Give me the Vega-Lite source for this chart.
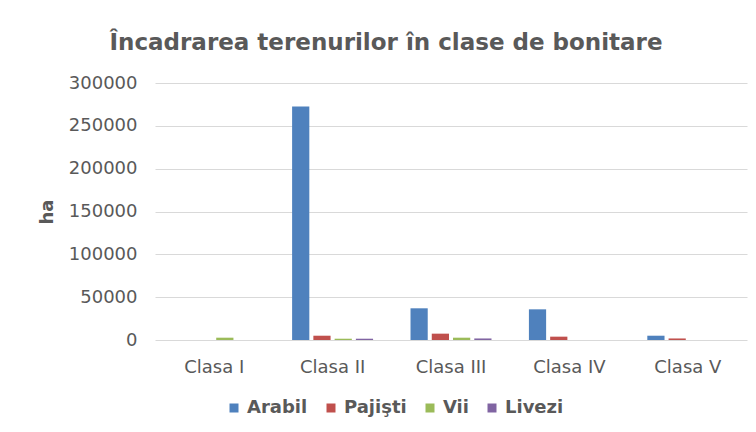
{
  "$schema": "https://vega.github.io/schema/vega-lite/v6.json",
  "autosize": {"type": "none"},
  "width": 592,
  "height": 257,
  "padding": {"left": 155, "top": 83, "right": 9, "bottom": 92},
  "background": "white",
  "title": {
    "text": "Încadrarea terenurilor în clase de bonitare",
    "font": "DejaVu Sans",
    "fontSize": 23,
    "fontWeight": "bold",
    "color": "#595959",
    "anchor": "middle",
    "dx": -65,
    "offset": 19
  },
  "data": {
    "values": [
      {"clasa": "Clasa I", "tip": "Arabil", "ha": 0},
      {"clasa": "Clasa I", "tip": "Pajişti", "ha": 0},
      {"clasa": "Clasa I", "tip": "Vii", "ha": 2700},
      {"clasa": "Clasa I", "tip": "Livezi", "ha": 0},
      {"clasa": "Clasa II", "tip": "Arabil", "ha": 272500},
      {"clasa": "Clasa II", "tip": "Pajişti", "ha": 5000},
      {"clasa": "Clasa II", "tip": "Vii", "ha": 1500},
      {"clasa": "Clasa II", "tip": "Livezi", "ha": 1500},
      {"clasa": "Clasa III", "tip": "Arabil", "ha": 37000},
      {"clasa": "Clasa III", "tip": "Pajişti", "ha": 7400},
      {"clasa": "Clasa III", "tip": "Vii", "ha": 2700},
      {"clasa": "Clasa III", "tip": "Livezi", "ha": 1800},
      {"clasa": "Clasa IV", "tip": "Arabil", "ha": 35800},
      {"clasa": "Clasa IV", "tip": "Pajişti", "ha": 3900},
      {"clasa": "Clasa IV", "tip": "Vii", "ha": 0},
      {"clasa": "Clasa IV", "tip": "Livezi", "ha": 0},
      {"clasa": "Clasa V", "tip": "Arabil", "ha": 5000},
      {"clasa": "Clasa V", "tip": "Pajişti", "ha": 1800},
      {"clasa": "Clasa V", "tip": "Vii", "ha": 0},
      {"clasa": "Clasa V", "tip": "Livezi", "ha": 0}
    ]
  },
  "mark": {"type": "bar"},
  "encoding": {
    "x": {
      "field": "clasa",
      "type": "nominal",
      "sort": ["Clasa I", "Clasa II", "Clasa III", "Clasa IV", "Clasa V"],
      "scale": {"paddingInner": 0.316, "paddingOuter": 0.158},
      "axis": {
        "title": null,
        "labelAngle": 0,
        "labelFont": "DejaVu Sans",
        "labelFontSize": 18,
        "labelColor": "#595959",
        "labelPadding": 18,
        "ticks": false,
        "domain": false,
        "grid": false
      }
    },
    "xOffset": {
      "field": "tip",
      "type": "nominal",
      "sort": ["Arabil", "Pajişti", "Vii", "Livezi"],
      "scale": {"paddingInner": 0.19, "paddingOuter": 0}
    },
    "y": {
      "field": "ha",
      "type": "quantitative",
      "scale": {"domain": [0, 300000], "nice": false},
      "axis": {
        "title": "ha",
        "titleFont": "DejaVu Sans",
        "titleFontSize": 18,
        "titleFontWeight": "bold",
        "titleColor": "#595959",
        "titlePadding": 12,
        "values": [0, 50000, 100000, 150000, 200000, 250000, 300000],
        "format": "d",
        "labelFont": "DejaVu Sans",
        "labelFontSize": 18,
        "labelColor": "#595959",
        "labelPadding": 18,
        "ticks": false,
        "domain": false,
        "grid": true,
        "gridColor": "#d9d9d9",
        "gridWidth": 1
      }
    },
    "color": {
      "field": "tip",
      "type": "nominal",
      "sort": ["Arabil", "Pajişti", "Vii", "Livezi"],
      "scale": {
        "domain": ["Arabil", "Pajişti", "Vii", "Livezi"],
        "range": ["#4F81BD", "#C0504D", "#9BBB59", "#8064A2"]
      },
      "legend": {
        "title": null,
        "orient": "none",
        "direction": "horizontal",
        "legendX": 70,
        "legendY": 316,
        "symbolType": "square",
        "symbolSize": 81,
        "symbolStrokeWidth": 0,
        "labelFont": "DejaVu Sans",
        "labelFontSize": 18,
        "labelFontWeight": "bold",
        "labelColor": "#595959",
        "labelOffset": 4,
        "columnPadding": 14
      }
    }
  },
  "config": {
    "view": {"stroke": null}
  }
}
